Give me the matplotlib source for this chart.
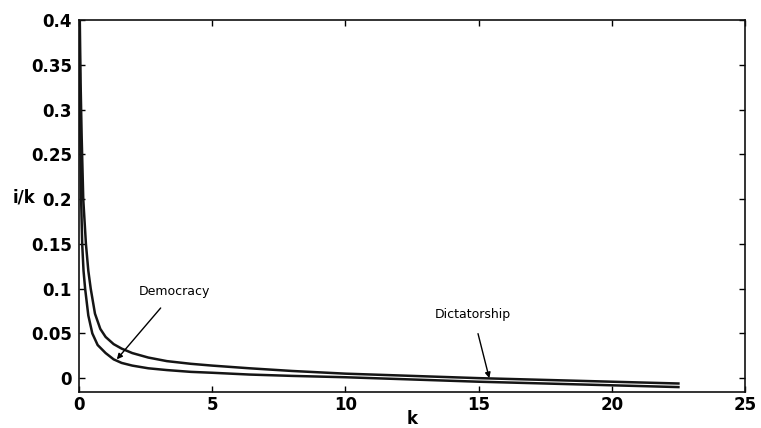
import matplotlib
matplotlib.use("Agg")
import matplotlib.pyplot as plt

# Dictatorship (upper curve)
k_dict = [0.03, 0.06, 0.10, 0.16, 0.26, 0.35, 0.44, 0.6, 0.8, 1.0, 1.3, 1.6, 2.0, 2.6, 3.3, 4.2, 5.0, 6.4, 8.0, 10.0, 12.5, 15.0, 17.5, 20.0, 22.5]
y_dict = [0.40, 0.33, 0.27, 0.20, 0.15, 0.12, 0.10, 0.072, 0.055, 0.046, 0.038, 0.033, 0.028, 0.023, 0.019, 0.016, 0.014, 0.011, 0.008, 0.005, 0.0025, 0.0, -0.002, -0.004, -0.006]

# Democracy (lower curve)
k_demo = [0.02, 0.05, 0.08, 0.12, 0.17, 0.23, 0.35, 0.5, 0.7, 1.0, 1.3, 1.6, 2.0, 2.6, 3.3, 4.2, 5.0, 6.4, 8.0, 10.0, 12.5, 15.0, 17.5, 20.0, 22.5]
y_demo = [0.40, 0.27, 0.20, 0.15, 0.12, 0.10, 0.07, 0.05, 0.037, 0.028, 0.021, 0.017, 0.014, 0.011, 0.009, 0.007, 0.006, 0.004, 0.0025, 0.001, -0.0015, -0.004, -0.006, -0.008, -0.010]

x_ticks = [0, 5, 10, 15, 20, 25]
y_ticks = [0, 0.05, 0.1, 0.15, 0.2, 0.25, 0.3, 0.35, 0.4]
y_tick_labels = ["0", "0.05", "0.1", "0.15", "0.2", "0.25", "0.3", "0.35", "0.4"]

plt.rcParams['font.family'] = ['DejaVu Sans']

fig = plt.figure(figsize=(7.61, 4.28), dpi=100)
ax = fig.add_axes([0.1038, 0.0841, 0.979 - 0.1038, 0.953 - 0.0841])

ax.plot(k_dict, y_dict, color='#151515', lw=1.8)
ax.plot(k_demo, y_demo, color='#151515', lw=1.8)

ax.set_xlim(0, 25)
ax.set_ylim(-0.0155, 0.4)
ax.set_xticks(x_ticks)
ax.set_xticklabels([str(t) for t in x_ticks], fontweight='bold')
ax.set_yticks(y_ticks)
ax.set_yticklabels(y_tick_labels, fontweight='bold')
ax.tick_params(direction='in', top=True, right=True, length=4, width=1, labelsize=12)
ax.tick_params(axis='y', pad=5)
ax.tick_params(axis='x', pad=3)
for s in ax.spines.values():
    s.set_linewidth(1.2)
    s.set_color('#111111')

ax.set_xlabel('k', fontsize=12, fontweight='bold', labelpad=-3)
ax.set_ylabel('i/k', fontsize=12, fontweight='bold', rotation=0)
ax.yaxis.set_label_coords(-0.083, 0.5)

ax.annotate('Democracy', xy=(1.42, 0.021), xytext=(3.6, 0.097),
            fontsize=9, ha='center', va='center',
            arrowprops=dict(arrowstyle='-|>', color='black', lw=1.0,
                            mutation_scale=8, shrinkA=7, shrinkB=0))
ax.annotate('Dictatorship', xy=(15.4, 0.0), xytext=(14.8, 0.0706),
            fontsize=9, ha='center', va='center',
            arrowprops=dict(arrowstyle='-|>', color='black', lw=1.0,
                            mutation_scale=8, shrinkA=7, shrinkB=0))

fig.savefig('out.png', dpi=100)
